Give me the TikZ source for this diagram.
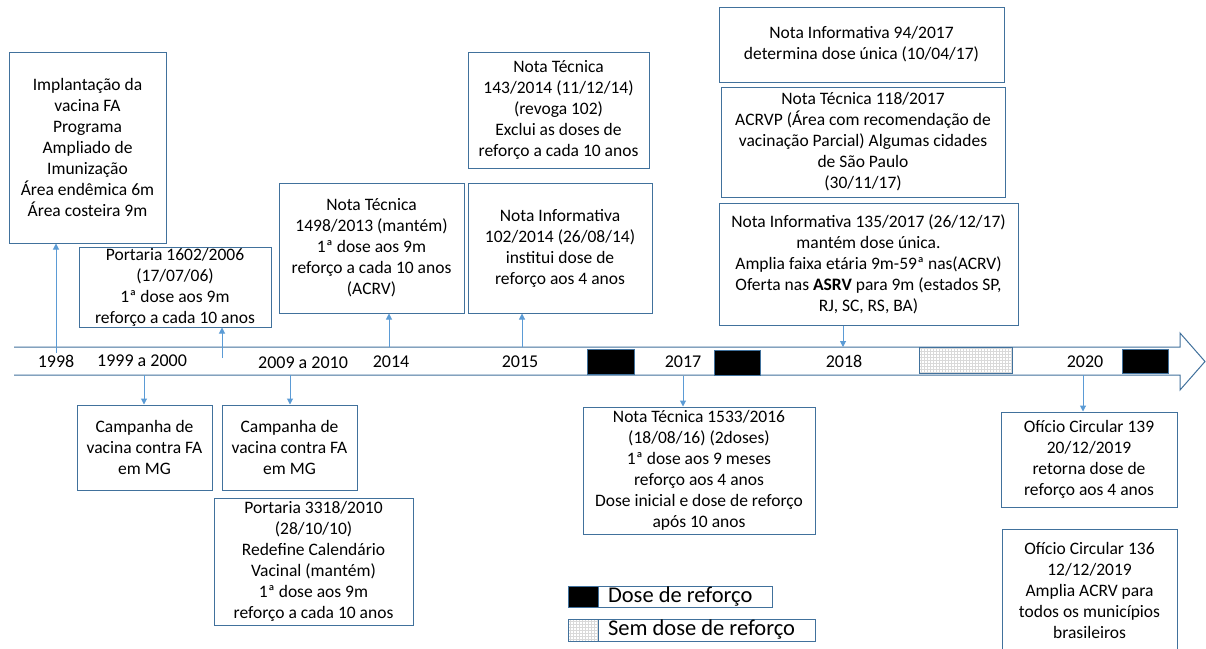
\documentclass[tikz,border=0pt]{standalone}
\usepackage{fontspec}
\setmainfont{Carlito}
\usepackage{tikz}
\usetikzlibrary{arrows.meta,patterns,positioning}
\definecolor{boxblue}{HTML}{41719C}
\definecolor{setablue}{HTML}{5B9BD5}
\tikzset{every picture/.style={line width=1pt}}
\tikzset{font=\fontsize{17.5}{21}\selectfont}
\tikzstyle{nota}=[draw=boxblue,align=center,inner sep=0pt]
\tikzstyle{ano}=[font=\fontsize{18}{21}\selectfont,inner sep=0pt]
\tikzstyle{reforco}=[draw=boxblue,fill=black,inner sep=0pt]
\tikzstyle{semreforco}=[draw=boxblue,fill=white,pattern=grid,pattern color=black!15,inner sep=0pt]
\tikzstyle{legtext}=[font=\fontsize{22.5}{24}\selectfont,inner sep=0pt]

\begin{document}
\begin{tikzpicture}[x=1pt,y=-1pt]
\path[fill=white,use as bounding box] (0,0) rectangle (1206,648);
% linha do tempo
\draw[boxblue] (14,347) -- (1180,347) -- (1180,333) -- (1205,361.5)
  -- (1180,390) -- (1180,375) -- (14,375);
\node[ano] (a1998) at (56,361) {1998};
\node[ano] (a1999) at (142,361) {1999 a 2000};
\node[ano] (a2009) at (303,363) {2009 a 2010};
\node[ano] (a2014) at (391,362) {2014};
\node[ano] (a2015) at (520,362) {2015};
\node[ano] (a2017) at (683,362) {2017};
\node[ano] (a2018) at (844,361) {2018};
\node[ano] (a2020) at (1085,362) {2020};
\node[reforco,minimum width=47,minimum height=25] (r1) at (610.5,361.5) {};
\node[reforco,minimum width=46,minimum height=25] (r2) at (737,362.5) {};
\node[semreforco,minimum width=93,minimum height=26] (s1) at (965.5,360) {};
\node[reforco,minimum width=46,minimum height=24] (r3) at (1145,361) {};
% caixas de cima
\node[nota,minimum width=157,minimum height=191] (implant) at (87.5,147.5)
  {Implantação da\\vacina FA\\Programa\\Ampliado de\\Imunização\\Área endêmica 6m\\Área costeira 9m};
\node[nota,minimum width=192,minimum height=80] (port1602) at (175,287)
  {Portaria 1602/2006\\(17/07/06)\\1ª dose aos 9m\\reforço a cada 10 anos};
\node[nota,minimum width=185,minimum height=130] (nt1498) at (371.5,248)
  {Nota Técnica\\1498/2013 (mantém)\\1ª dose aos 9m\\reforço a cada 10 anos\\(ACRV)};
\node[nota,minimum width=184,minimum height=130] (ni102) at (560,248)
  {Nota Informativa\\102/2014 (26/08/14)\\institui dose de\\reforço aos 4 anos};
\node[nota,minimum width=181,minimum height=116] (nt143) at (558.5,110)
  {Nota Técnica\\143/2014 (11/12/14)\\(revoga 102)\\Exclui as doses de\\reforço a cada 10 anos};
\node[nota,minimum width=285,minimum height=75] (ni94) at (861.5,44.5)
  {Nota Informativa 94/2017\\determina dose única (10/04/17)};
\node[nota,minimum width=284,minimum height=110] (nt118) at (863,142)
  {Nota Técnica 118/2017\\ACRVP (Área com recomendação de\\vacinação Parcial) Algumas cidades\\de São Paulo\\(30/11/17)};
\node[nota,minimum width=299,minimum height=122] (ni135) at (868.5,264)
  {Nota Informativa 135/2017 (26/12/17)\\mantém dose única.\\Amplia faixa etária 9m-59ª nas(ACRV)\\Oferta nas \textbf{ASRV} para 9m (estados SP,\\RJ, SC, RS, BA)};
% caixas de baixo
\node[nota,minimum width=135,minimum height=85] (camp1) at (144.5,447.5)
  {Campanha de\\vacina contra FA\\em MG};
\node[nota,minimum width=135,minimum height=85] (camp2) at (289.5,447.5)
  {Campanha de\\vacina contra FA\\em MG};
\node[nota,minimum width=199,minimum height=127] (port3318) at (313.5,561.5)
  {Portaria 3318/2010\\(28/10/10)\\Redefine Calendário\\Vacinal (mantém)\\1ª dose aos 9m\\reforço a cada 10 anos};
\node[nota,minimum width=232,minimum height=127] (nt1533) at (699,470.5)
  {Nota Técnica 1533/2016\\(18/08/16) (2doses)\\1ª dose aos 9 meses\\reforço aos 4 anos\\Dose inicial e dose de reforço\\após 10 anos};
\node[nota,minimum width=176,minimum height=95] (of139) at (1089,459.5)
  {Ofício Circular 139\\20/12/2019\\retorna dose de\\reforço aos 4 anos};
\node[nota,minimum width=175,minimum height=123] (of136) at (1089.5,590.5)
  {Ofício Circular 136\\12/12/2019\\Amplia ACRV para\\todos os municípios\\brasileiros};
% legenda
\node[nota,minimum width=204,minimum height=21] (legref) at (670,596.5) {};
\node[reforco,minimum width=30,minimum height=21,anchor=west] (legrefcor) at (legref.west) {};
\node[legtext,anchor=west] at ([xshift=9]legrefcor.east) {Dose de reforço};
\node[nota,minimum width=247,minimum height=22] (legsem) at (691.5,630) {};
\node[semreforco,minimum width=30,minimum height=22,anchor=west] (legsemcor) at (legsem.west) {};
\node[legtext,anchor=west] at ([xshift=9]legsemcor.east) {Sem dose de reforço};
% setas
\coordinate (t1998) at (56,353);
\coordinate (t1602) at (222,358);
\coordinate (t2014) at (389,347);
\coordinate (t2015) at (522,347);
\coordinate (t2018) at (843,347);
\coordinate (t1999) at (144,375);
\coordinate (t2009) at (290,375);
\coordinate (t2017) at (683,376);
\coordinate (t2020) at (1083,375);
\path[->,color=setablue,>={Triangle[length=6pt,width=6pt]}]
(t1998) edge (t1998 |- implant.south)
(t1602) edge (t1602 |- port1602.south)
(t2014) edge (t2014 |- nt1498.south)
(t2015) edge (t2015 |- ni102.south)
(t2018 |- ni135.south) edge (t2018)
(t1999) edge (t1999 |- camp1.north)
(t2009) edge (t2009 |- camp2.north)
(t2017) edge (t2017 |- nt1533.north)
(t2020) edge (t2020 |- of139.north);
\end{tikzpicture}
\end{document}
